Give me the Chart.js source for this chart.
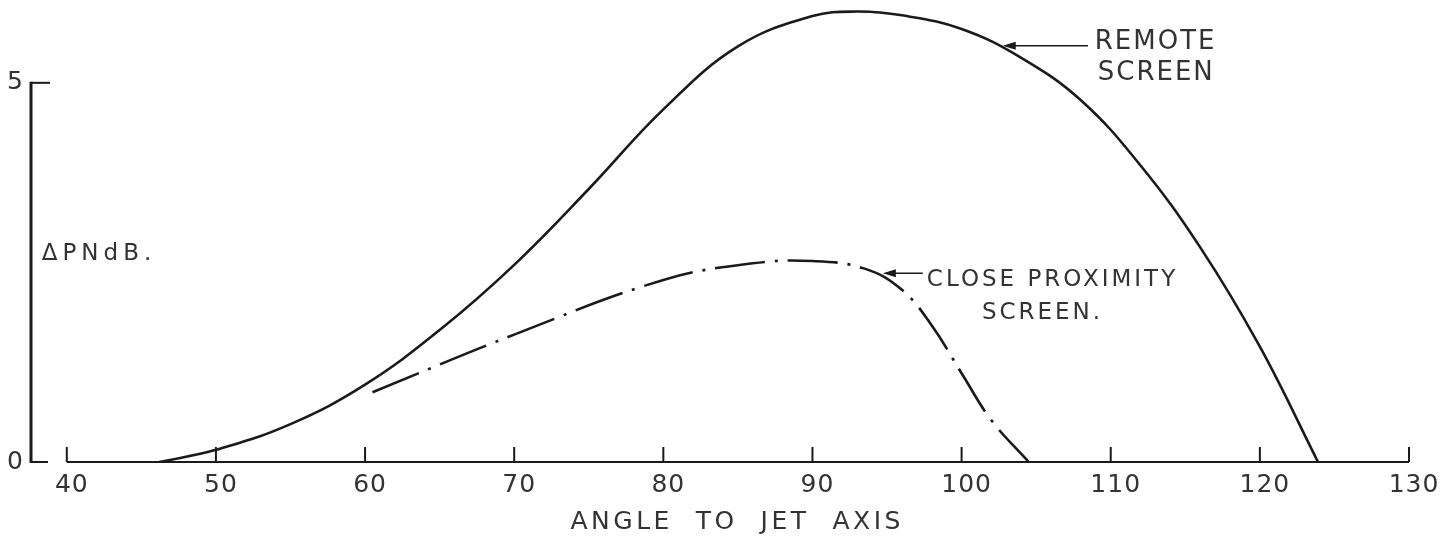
<!DOCTYPE html>
<html><head><meta charset="utf-8">
<script src="https://cdn.jsdelivr.net/npm/chart.js@4.4.0/dist/chart.umd.min.js"></script>
<style>html,body{margin:0;padding:0;background:#fff}</style>
</head><body>
<canvas id="c" width="1443" height="542"></canvas>
<script>
// ---- data ----
const xTickValues = [40, 50, 60, 70, 80, 90, 100, 110, 120, 130];
const yTickValues = [0, 5];
const remoteAngle = [46.2, 50, 55, 60, 65, 70, 75, 80, 85, 90, 93, 96, 100, 104, 108, 112, 116, 120, 123.9];
const remoteDelta = [0, 0.16, 0.5, 1.02, 1.74, 2.6, 3.6, 4.65, 5.48, 5.88, 5.94, 5.89, 5.71, 5.33, 4.77, 3.91, 2.83, 1.52, 0];
const closeAngle = [60.5, 70, 80, 86, 90, 93.5, 96, 98, 100, 102, 104.5];
const closeDelta = [0.92, 1.68, 2.4, 2.62, 2.65, 2.55, 2.27, 1.8, 1.17, 0.55, 0];
const xTitle = '   ANGLE  TO  JET  AXIS';
const yTitle = 'ΔPNdB.';
const remoteLabel = ['REMOTE', 'SCREEN'];
const closeLabel = ['CLOSE PROXIMITY', 'SCREEN.'];

const INK = '#1a1a1a';
const TXT = '#333333';
const FONT = "'DejaVu Sans', sans-serif";

function pts(xs, ys) { return xs.map((v, i) => ({ x: v, y: ys[i] })); }

function arrow(ctx, tipX, tipY, tailX) {
  ctx.beginPath(); ctx.moveTo(tailX, tipY); ctx.lineTo(tipX + 8, tipY); ctx.stroke();
  ctx.beginPath(); ctx.moveTo(tipX, tipY); ctx.lineTo(tipX + 13, tipY - 4); ctx.lineTo(tipX + 13, tipY + 4); ctx.closePath(); ctx.fill();
}

const decor = {
  id: 'decor',
  afterUpdate(chart) {
    const s = chart.scales.x;
    if (s && !s._spaced) {
      const orig = s.drawTitle;
      s.drawTitle = function () {
        this.ctx.save(); this.ctx.letterSpacing = '3.5px';
        orig.apply(this, arguments);
        this.ctx.restore();
      };
      s._spaced = true;
    }
  },
  beforeDraw(chart) { chart.ctx.letterSpacing = '1px'; },
  beforeDatasetsDraw(chart) {
    const { ctx, scales: { x, y }, chartArea } = chart;
    ctx.save();
    ctx.strokeStyle = INK; ctx.lineCap = 'butt';
    const y0 = y.getPixelForValue(0), y5 = y.getPixelForValue(5);
    const ax = chartArea.left;
    ctx.lineWidth = 3;
    ctx.beginPath(); ctx.moveTo(ax, y0 + 1); ctx.lineTo(ax, y5 - 1); ctx.stroke();
    ctx.lineWidth = 2;
    ctx.beginPath(); ctx.moveTo(ax, y0); ctx.lineTo(ax + 17, y0); ctx.stroke();
    ctx.beginPath(); ctx.moveTo(ax, y5); ctx.lineTo(ax + 19, y5); ctx.stroke();
    const xa = x.getPixelForValue(xTickValues[0]), xb = x.getPixelForValue(xTickValues[xTickValues.length - 1]);
    ctx.lineWidth = 2;
    ctx.beginPath(); ctx.moveTo(xa, y0); ctx.lineTo(xb, y0); ctx.stroke();
    xTickValues.forEach(v => {
      const px = x.getPixelForValue(v);
      ctx.beginPath(); ctx.moveTo(px, y0); ctx.lineTo(px, y0 - 15); ctx.stroke();
    });
    ctx.restore();
  },
  afterDraw(chart) {
    const { ctx, scales: { x, y } } = chart;
    ctx.save();
    ctx.fillStyle = TXT; ctx.strokeStyle = INK; ctx.lineWidth = 1.6;
    ctx.textAlign = 'left'; ctx.textBaseline = 'middle';
    ctx.letterSpacing = '5px';
    ctx.font = `23px ${FONT}`;
    ctx.fillText(yTitle, x.getPixelForValue(38.32), y.getPixelForValue(2.74));
    ctx.font = `26px ${FONT}`;
    ctx.letterSpacing = '2px';
    ctx.fillText(remoteLabel[0], x.getPixelForValue(108.93), y.getPixelForValue(5.53));
    ctx.fillText(remoteLabel[1], x.getPixelForValue(109.13), y.getPixelForValue(5.13));
    ctx.fillStyle = INK;
    arrow(ctx, x.getPixelForValue(102.76), y.getPixelForValue(5.49), x.getPixelForValue(108.47));
    ctx.fillStyle = TXT;
    ctx.font = `23px ${FONT}`;
    ctx.letterSpacing = '3px';
    ctx.fillText(closeLabel[0], x.getPixelForValue(97.67), y.getPixelForValue(2.40));
    ctx.fillText(closeLabel[1], x.getPixelForValue(101.36), y.getPixelForValue(1.97));
    ctx.fillStyle = INK;
    arrow(ctx, x.getPixelForValue(94.72), y.getPixelForValue(2.49), x.getPixelForValue(97.4));
    ctx.restore();
  }
};

new Chart(document.getElementById('c'), {
  type: 'scatter',
  data: {
    datasets: [
      { label: 'Remote screen', data: pts(remoteAngle, remoteDelta), showLine: true, borderColor: INK, borderWidth: 2.6,
        pointRadius: 0, tension: 0.4, fill: false },
      { label: 'Close proximity screen', data: pts(closeAngle, closeDelta), showLine: true, borderColor: INK, borderWidth: 2.6,
        borderDash: [50, 10, 3, 10], pointRadius: 0, tension: 0.4, fill: false }
    ]
  },
  options: {
    responsive: false,
    animation: false,
    devicePixelRatio: 1,
    layout: { padding: { top: 7, right: 34, left: 0, bottom: 0 } },
    plugins: { legend: { display: false }, tooltip: { enabled: false } },
    scales: {
      x: {
        type: 'linear', min: 37.6, max: 130,
        afterBuildTicks: s => { s.ticks = xTickValues.map(v => ({ value: v })); },
        afterFit: s => { s.height = 80; },
        grid: { display: false, drawTicks: false },
        border: { display: false },
        ticks: { font: { size: 25, family: FONT }, color: TXT, padding: 8, labelOffset: 5, maxRotation: 0, autoSkip: false },
        title: { display: true, text: xTitle, font: { size: 25, family: FONT }, color: TXT, padding: { top: 0, bottom: 5 } }
      },
      y: {
        type: 'linear', min: 0, max: 6,
        afterBuildTicks: s => { s.ticks = yTickValues.map(v => ({ value: v })); },
        afterFit: s => { s.width = 31; s.paddingTop = 0; s.paddingBottom = 0; },
        grid: { display: false, drawTicks: false },
        border: { display: false },
        ticks: { font: { size: 25, family: FONT }, color: TXT, padding: 7 }
      }
    }
  },
  plugins: [decor]
});
</script>
</body></html>
